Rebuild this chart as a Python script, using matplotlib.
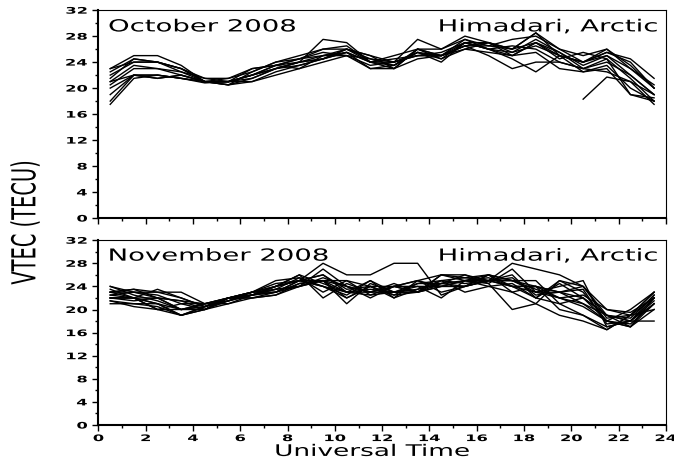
import numpy as np
import matplotlib.pyplot as plt
from matplotlib.ticker import MultipleLocator
from matplotlib.patheffects import AbstractPathEffect
from matplotlib.transforms import Affine2D

hours = np.arange(0.5, 24.0, 1.0)
nan = np.nan

# October 2008, one row per day (VTEC in TECU at each UT hour)
oct_days = [
    [23, 25, 25, 23.5, 21, 21, 22, 23.5, 24, 27.5, 27, 24, 24, 27.5, 26, 28, 27, 26, 28.5, 25, 24, 25.5, 24.5, 21.5],
    [22, 24, 24, 23, 21, 20.5, 22.5, 24, 25, 26, 26, 25, 23, 26, 25, 27.5, 26.5, 27.5, 28, 26, 25, 26, 23, 20],
    [21, 23.5, 23, 22, 21, 21, 21, 22.5, 23.5, 24.5, 25.5, 24, 25, 26, 24.5, 27, 27, 25, 27, 25.5, 23, 24, 22, 19],
    [20, 22, 21.5, 22, 21, 21, 21.5, 23, 24, 25, 25, 23.5, 24, 25, 25.5, 27, 26, 24.5, 22.5, 25, 22.5, 23.5, 20, 18],
    [19, 22, 22, 21.5, 20.8, 21, 23, 23.5, 23, 25, 25.5, 23, 23.5, 25.5, 24.5, 26, 27, 26, 27, 24.5, 25.5, 24.5, 19, 18.5],
    [17.5, 21.5, 22, 21.5, 21, 20.5, 21, 22, 23, 24, 25, 23, 23, 24.5, 25, 26.5, 25, 23, 24, 24, 23, 22.5, 21, 17.5],
    [18, 22, 21.5, 22, 21, 20.5, 21.5, 23, 24, 24.5, 26, 24.5, 24, 25, 25, 26.5, 26.5, 26, 28.5, 26, 24, 25, 22, 19],
    [21.5, 24.5, 24, 23, 21, 21.5, 22.5, 24, 24.5, 25, 26, 25, 24, 25.5, 25, 26, 25.5, 25, 27, 25, 24, 26, 23.5, 20],
    [22.5, 24.5, 24, 23, 21.5, 21, 22, 23.5, 24.5, 25.5, 25, 24.5, 23.5, 26, 26, 27.5, 26, 25.5, 27.5, 25.5, 23.5, 25, 23, 20.5],
    [20.5, 23, 23, 22.5, 21, 21, 22, 23, 24, 24.5, 25.5, 24, 23.5, 25.5, 24, 27, 26, 26.5, 26, 24, 23, 24.5, 21.5, 18],
    [23, 24, 24, 22.5, 21.5, 21.5, 23, 23.5, 24.5, 26, 26.5, 24, 23, 26, 25, 26.5, 27, 25.5, 26.5, 25, 24, 25.5, 24, 20],
    [21, 22, 22, 21.5, 21, 21, 22, 23, 23.5, 24.5, 26, 24, 24.5, 25, 25, 27, 26, 25, 25.5, 23, 22.5, 23, 19, 18],
    [nan] * 20 + [18.3, 21.7, 21, 19],
]

# November 2008
nov_days = [
    [24, 23, 23, 23, 21, 21, 22.5, 23, 25, 28, 26, 26, 28, 28, 22.5, 24, 25, 28, 27, 26, 24, 19, 18, 21],
    [23, 23.5, 22, 20, 21, 22, 23, 24, 25, 24, 23, 25, 23, 23, 26, 26, 25, 25, 24, 23, 22, 19, 17, 22],
    [22, 22, 21, 19, 20.5, 22, 22.5, 24, 26, 22, 24.5, 23, 24.5, 23, 25, 25.5, 25, 24, 23, 24, 25, 17, 18, 22],
    [22.5, 23, 22.5, 21, 20, 22, 23, 24.5, 25, 26, 23, 23, 23, 23.5, 25, 24.5, 25, 26, 22, 25, 23, 18, 17.5, 21],
    [21, 21, 20.5, 19, 20, 22, 22.5, 23, 25, 25, 22, 24, 22.5, 23, 24, 24, 25, 25, 23, 22, 22.5, 20, 19, 23],
    [23.5, 22, 21, 20, 20.5, 21.5, 23, 23.5, 24, 27, 24, 23, 24, 25, 23, 24, 25, 24, 22, 21, 19, 16.5, 19, 20],
    [22, 21.5, 22, 21.5, 21, 21.5, 22.5, 23.5, 25.5, 24, 22.5, 25, 22, 25, 24, 25, 26, 23, 21, 25, 24, 18.5, 19, 23],
    [23, 22, 20, 20, 21, 22, 22, 22.5, 24.5, 25, 25, 22.5, 23, 24.5, 24.5, 26, 24.5, 20, 21, 19, 18, 16.5, 19, 22],
    [22, 22, 23.5, 22, 20.5, 22, 23, 25, 25.5, 23, 25, 24, 24, 24, 22, 25, 24.5, 27, 23, 23, 21, 19, 18, 18],
    [21.5, 20.5, 20, 19, 20, 21, 22, 22.5, 24, 25.5, 24, 23, 24, 23, 24, 25, 25.5, 24, 24, 22, 21, 18, 17, 21],
    [23, 23.5, 23, 22, 20.5, 22, 22.5, 24, 25, 24, 22, 24, 22.5, 24.5, 25, 23, 24, 24.5, 22, 24.5, 22, 19, 18.5, 22.5],
    [22.5, 22, 22, 21.5, 20, 22, 23, 24, 26, 24.5, 23, 22.5, 24, 25, 26, 25.5, 26, 25, 23.5, 22, 20.5, 18, 17, 20],
    [24, 22.5, 21.5, 20, 20, 21.5, 23, 23, 24.5, 25, 21, 24.5, 23, 23, 26, 25, 24, 23, 24, 23, 24, 20, 19.5, 22],
    [22, 22, 20, 21, 21, 22, 22, 23, 24, 25, 24, 22, 24, 23, 24.5, 24, 26, 25, 25, 21, 22, 18, 20, 23],
    [21.5, 21, 21, 19, 20.5, 21.5, 22.5, 24, 25, 26, 23.5, 24, 22, 23.5, 24.5, 25, 25, 25.5, 22.5, 23, 23.5, 17.5, 18, 21.5],
    [23, 23, 22, 20, 20.5, 22, 22.5, 23.5, 24, 25, 23, 23.5, 23, 24, 24, 24, 26, 24, 24, 20, 19, 17, 18, 22.5],
]


# the original figure is stretched sideways, so widen the glyphs the same way
class StretchX(AbstractPathEffect):
    def __init__(self, sx, anchor='center'):
        super().__init__()
        self.sx = sx
        self.anchor = anchor

    def draw_path(self, renderer, gc, tpath, affine, rgbFace=None):
        ext = tpath.get_extents(affine)
        x0 = {'left': ext.x0, 'right': ext.x1, 'center': 0.5 * (ext.x0 + ext.x1)}[self.anchor]
        st = Affine2D().translate(-x0, 0).scale(self.sx, 1).translate(x0, 0)
        renderer.draw_path(gc, tpath, affine + st, rgbFace)


fig = plt.figure(figsize=(6.74, 4.61), dpi=100)
ax1 = fig.add_axes([0.146, 0.527, 0.842, 0.451])
ax2 = fig.add_axes([0.146, 0.078, 0.842, 0.401])

panels = [(ax1, oct_days, 'October 2008'), (ax2, nov_days, 'November 2008')]
for ax, days, month in panels:
    for d in days:
        ax.plot(hours, d, color='black', lw=1.0)
    ax.set_xlim(0, 24)
    ax.set_ylim(0, 32)
    ax.xaxis.set_major_locator(MultipleLocator(2))
    ax.xaxis.set_minor_locator(MultipleLocator(1))
    ax.yaxis.set_major_locator(MultipleLocator(4))
    ax.yaxis.set_minor_locator(MultipleLocator(2))
    ax.tick_params(which='major', length=4, width=1, pad=4)
    ax.tick_params(axis='x', which='major', pad=2.5)
    ax.tick_params(which='minor', length=2, width=1)
    for lab in ax.get_xticklabels():
        lab.set_fontweight('bold')
        lab.set_fontsize(6.5)
        lab.set_path_effects([StretchX(1.8, 'center')])
    for lab in ax.get_yticklabels():
        lab.set_fontweight('bold')
        lab.set_fontsize(6.5)
        lab.set_path_effects([StretchX(1.8, 'right')])
    for sp in ax.spines.values():
        sp.set_linewidth(0.8)
    ax.spines['left'].set_linewidth(1.5)
    ax.spines['bottom'].set_linewidth(1.5)
    ax.text(0.018, 0.965, month, transform=ax.transAxes, ha='left', va='top', fontsize=12,
            path_effects=[StretchX(1.65, 'left')])
    ax.text(0.985, 0.965, 'Himadari, Arctic', transform=ax.transAxes, ha='right', va='top',
            fontsize=12, path_effects=[StretchX(1.65, 'right')])

ax1.tick_params(axis='x', labelbottom=False)

fig.text(0.038, 0.518, 'VTEC (TECU)', rotation=90, ha='center', va='center', fontsize=14,
         family='Liberation Sans Narrow', path_effects=[StretchX(1.7, 'center')])
fig.text(0.553, 0.011, 'Universal Time', ha='center', va='baseline', fontsize=11.5,
         path_effects=[StretchX(1.65, 'center')])

plt.savefig('out.png', dpi=100)
